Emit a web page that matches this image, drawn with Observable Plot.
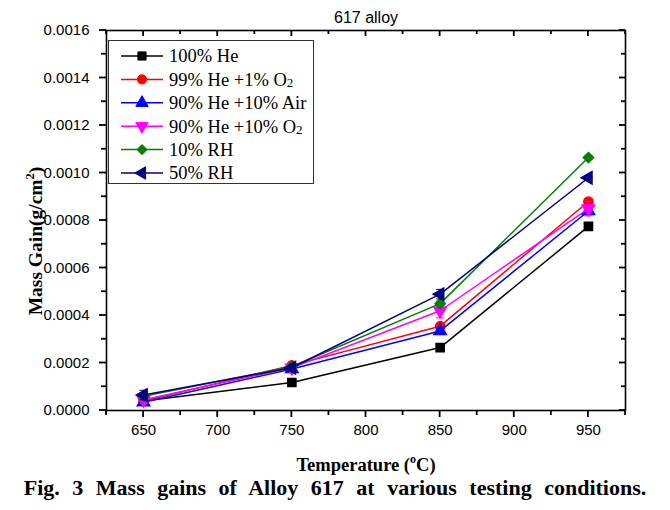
<!DOCTYPE html>
<html><head><meta charset="utf-8">
<script src="https://cdn.jsdelivr.net/npm/d3@7"></script>
<script src="https://cdn.jsdelivr.net/npm/@observablehq/plot@0.6"></script>
<style>
body{margin:0;background:#fff;}
#cap{font:bold 22px "Liberation Serif",serif;text-align:center;width:670px;word-spacing:7px;line-height:26px;color:#000;white-space:nowrap;}
</style></head><body><div id="chart"></div><div id="cap">Fig. 3 Mass gains of Alloy 617 at various testing conditions.</div>
<script>
const temperatures = [650, 750, 850, 950];
const seriesNames = ["100% He", "99% He +1% O2", "90% He +10% Air", "90% He +10% O2", "10% RH", "50% RH"];
const seriesColors = ["#000000", "#ff0000", "#0000ff", "#ff00ff", "#008000", "#000080"];
const massHe100   = [0.000040, 0.000118, 0.000265, 0.000775];
const massHe99O2  = [0.000040, 0.000190, 0.000355, 0.000880];
const massHe90Air = [0.000035, 0.000175, 0.000335, 0.000840];
const massHe90O2  = [0.000045, 0.000180, 0.000420, 0.000850];
const massRH10    = [0.000060, 0.000185, 0.000450, 0.001065];
const massRH50    = [0.000065, 0.000180, 0.000490, 0.000980];
const errHe100   = [0.000005, 0.000005, 0.000005, 0.000005];
const errHe99O2  = [0.000005, 0.000008, 0.000010, 0.000010];
const errHe90Air = [0.000005, 0.000005, 0.000008, 0.000010];
const errHe90O2  = [0.000015, 0.000008, 0.000030, 0.000030];
const errRH10    = [0.000005, 0.000005, 0.000010, 0.000005];
const errRH50    = [0.000020, 0.000005, 0.000020, 0.000005];
const xDomain = [625, 975];
const yDomain = [0, 0.0016];
const yMajorTicks = [0, 0.0002, 0.0004, 0.0006, 0.0008, 0.0010, 0.0012, 0.0014, 0.0016];
const yMinorTicks = [0.0001, 0.0003, 0.0005, 0.0007, 0.0009, 0.0011, 0.0013, 0.0015];
const xMajorTicks = [650, 700, 750, 800, 850, 900, 950];
const xMinorTicks = [625, 675, 725, 775, 825, 875, 925, 975];
const chartTitle = "617 alloy";

const allMass = [massHe100, massHe99O2, massHe90Air, massHe90O2, massRH10, massRH50];
const allErr = [errHe100, errHe99O2, errHe90Air, errHe90O2, errRH10, errRH50];

const sq3 = Math.sqrt(3);
const triDown = {draw(c, s){ const y = -Math.sqrt(s/(sq3*3)); c.moveTo(0,-2*y); c.lineTo(-sq3*y, y); c.lineTo(sq3*y, y); c.closePath(); }};
const triLeft = {draw(c, s){ const y = -Math.sqrt(s/(sq3*3)); c.moveTo(2*y,0); c.lineTo(-y,-sq3*y); c.lineTo(-y, sq3*y); c.closePath(); }};
const capSym = {draw(c, s){ c.moveTo(-4,0); c.lineTo(4,0); }};
const symbols = ["square", "circle", "triangle", triDown, "diamond2", triLeft];

const rows = seriesNames.map((name, i) => temperatures.map((t, j) => ({series: name, t, m: allMass[i][j], e: allErr[i][j]})));

const marks = [];
rows.forEach((data, i) => {
  const c = seriesColors[i];
  marks.push(Plot.line(data, {x: "t", y: "m", stroke: c, strokeWidth: 1.5}));
  marks.push(Plot.ruleX(data, {x: "t", y1: d => d.m - d.e, y2: d => d.m + d.e, stroke: c, strokeWidth: 1}));
  marks.push(Plot.dot(data, {x: "t", y: d => d.m - d.e, symbol: capSym, stroke: c, strokeWidth: 1}));
  marks.push(Plot.dot(data, {x: "t", y: d => d.m + d.e, symbol: capSym, stroke: c, strokeWidth: 1}));
  marks.push(Plot.dot(data, {x: "t", y: "m", symbol: symbols[i], fill: c, stroke: c, r: 4.6}));
});

const plot = Plot.plot({
  width: 670, height: 475,
  marginLeft: 106, marginRight: 45, marginTop: 30, marginBottom: 65,
  style: {fontFamily: "'Liberation Sans', Arial, sans-serif", fontSize: "15px", color: "#000", background: "#fff"},
  x: {domain: xDomain},
  y: {domain: yDomain},
  marks: [
    Plot.axisY({ticks: yMajorTicks, tickSize: 0, tickPadding: 17, tickFormat: d3.format(".4f"), fontSize: 15, label: null}),
    Plot.axisX({ticks: xMajorTicks, tickSize: 0, tickPadding: 14, fontSize: 15, label: null}),
    ...marks,
    Plot.frame({stroke: "#000", strokeWidth: 1.6}),
    Plot.text([chartTitle], {text: d => d, frameAnchor: "top", dy: -13, fontSize: 16, lineAnchor: "middle"})
  ]
});
document.getElementById("chart").append(plot);

const svg = d3.select(plot);
const sx = plot.scale("x"), sy = plot.scale("y");
const X0 = sx.apply(xDomain[0]), X1 = sx.apply(xDomain[1]);
const Y0 = sy.apply(yDomain[0]), Y1 = sy.apply(yDomain[1]);
const tg = svg.append("g").attr("stroke", "#000").attr("stroke-width", 1.8).attr("fill", "none");
function addY(vals, len) {
  vals.forEach(v => {
    const y = sy.apply(v);
    tg.append("line").attr("x1", X0 - len).attr("x2", X0).attr("y1", y).attr("y2", y);
    tg.append("line").attr("x1", X1 - len + 1).attr("x2", X1).attr("y1", y).attr("y2", y);
  });
}
function addX(vals, len) {
  vals.forEach(v => {
    const x = sx.apply(v);
    tg.append("line").attr("x1", x).attr("x2", x).attr("y1", Y0).attr("y2", Y0 + len);
    tg.append("line").attr("x1", x).attr("x2", x).attr("y1", Y1).attr("y2", Y1 + len - 1);
  });
}
addY(yMajorTicks, 7); addY(yMinorTicks, 5);
addX(xMajorTicks, 7); addX(xMinorTicks, 5);

// axis titles
const yl = svg.append("text").attr("transform", "translate(42,241) rotate(-90)")
  .attr("text-anchor", "middle").attr("font-family", "'Liberation Serif', serif")
  .attr("font-weight", "bold").attr("font-size", 19.5).attr("fill", "#000");
yl.append("tspan").text("Mass Gain(g/cm");
yl.append("tspan").attr("font-size", 12.5).attr("dy", -8).text("2");
yl.append("tspan").attr("dy", 8).text(")");
const xl = svg.append("text").attr("x", 366).attr("y", 471)
  .attr("text-anchor", "middle").attr("font-family", "'Liberation Serif', serif")
  .attr("font-weight", "bold").attr("font-size", 18.5).attr("fill", "#000");
xl.append("tspan").text("Temperature (");
xl.append("tspan").attr("font-size", 12).attr("dy", -8).text("o");
xl.append("tspan").attr("dy", 8).text("C)");

// legend
const lg = svg.append("g");
lg.append("rect").attr("x", 108.5).attr("y", 40.5).attr("width", 205).attr("height", 143)
  .attr("fill", "#fff").attr("stroke", "#333").attr("stroke-width", 1);
seriesNames.forEach((name, i) => {
  const y = 56 + i * 23.4;
  const c = seriesColors[i];
  lg.append("line").attr("x1", 121).attr("x2", 163).attr("y1", y).attr("y2", y).attr("stroke", c).attr("stroke-width", 1.5);
  const s = symbols[i];
  const symType = typeof s === "string" ? ({square: d3.symbolSquare, circle: d3.symbolCircle, triangle: d3.symbolTriangle, diamond2: d3.symbolDiamond2})[s] : s;
  lg.append("path").attr("d", d3.symbol(symType, Math.PI * 4.6 * 4.6)()).attr("transform", `translate(142,${y})`).attr("fill", c).attr("stroke", c);
  const t = lg.append("text").attr("x", 169).attr("y", y).attr("dy", "0.35em").attr("text-anchor", "start")
    .attr("font-family", "'Liberation Serif', serif").attr("font-size", 18.5).attr("fill", "#000");
  const m = name.match(/^(.*O)2$/);
  if (m) { t.append("tspan").text(m[1]); t.append("tspan").attr("font-size", 13).attr("dy", 1).text("2"); }
  else t.text(name);
});
</script></body></html>
